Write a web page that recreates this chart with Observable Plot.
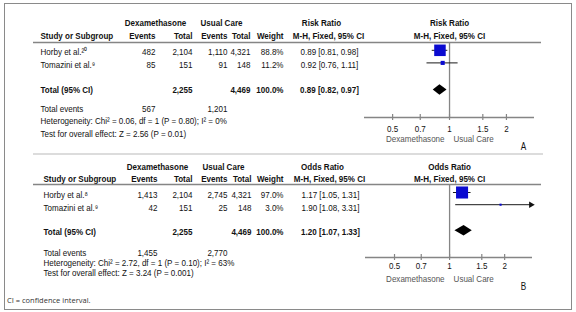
<!DOCTYPE html>
<html><head><meta charset="utf-8">
<script src="https://cdn.jsdelivr.net/npm/d3@7"></script>
<script src="https://cdn.jsdelivr.net/npm/@observablehq/plot@0.6"></script>
<style>
body{margin:0;background:#fff;}
#fig{position:relative;width:576px;height:312px;overflow:hidden;}
#border{position:absolute;left:4px;top:3px;width:568px;height:307px;border:1px solid #8a8a8a;box-sizing:border-box;}
#sep{position:absolute;left:33px;top:153px;width:510px;height:2px;background:#dcdcdc;}
.panel{position:absolute;left:0;}
#caption{position:absolute;left:7px;top:295px;font-family:"Open Sans",sans-serif;font-size:7.5px;line-height:10px;color:#333;}
</style></head>
<body>
<div id="fig">
  <div id="border"></div>
  <div id="sep"></div>
  <div id="pA" class="panel" style="top:0"></div>
  <div id="pB" class="panel" style="top:152px"></div>
  <div id="caption">CI = confidence interval.</div>
</div>
<script>
// ---------- data ----------
const groupHeaders = ["Dexamethasone", "Usual Care"];
const columnHeaders = ["Study or Subgroup", "Events", "Total", "Events", "Total", "Weight"];
const methodLabel = "M-H, Fixed, 95% CI";
const directionLabels = ["Dexamethasone", "Usual Care"];
const tickValues = [0.5, 0.7, 1, 1.5, 2];

// Panel A: risk ratio
const measureA = "Risk Ratio";
const studiesA = ["Horby et al.²⁰", "Tomazini et al.⁹"];
const dexEventsA = [482, 85];
const dexTotalA = [2104, 151];
const ucEventsA = [1110, 91];
const ucTotalA = [4321, 148];
const weightA = [88.8, 11.2];
const estA = [0.89, 0.92];
const lowA = [0.81, 0.76];
const highA = [0.98, 1.11];
const pooledA = [0.89, 0.82, 0.97];      // estimate, low, high
const totalsA = [2255, 4469, 100.0];     // dex total, usual total, weight
const totalEventsA = [567, 1201];
const heterogeneityA = "Heterogeneity: Chi² = 0.06, df = 1 (P = 0.80); I² = 0%";
const overallA = "Test for overall effect: Z = 2.56 (P = 0.01)";

// Panel B: odds ratio
const measureB = "Odds Ratio";
const studiesB = ["Horby et al.⁸", "Tomazini et al.⁹"];
const dexEventsB = [1413, 42];
const dexTotalB = [2104, 151];
const ucEventsB = [2745, 25];
const ucTotalB = [4321, 148];
const weightB = [97.0, 3.0];
const estB = [1.17, 1.90];
const lowB = [1.05, 1.08];
const highB = [1.31, 3.31];
const pooledB = [1.20, 1.07, 1.33];
const totalsB = [2255, 4469, 100.0];
const totalEventsB = [1455, 2770];
const heterogeneityB = "Heterogeneity: Chi² = 2.72, df = 1 (P = 0.10); I² = 63%";
const overallB = "Test for overall effect: Z = 3.24 (P = 0.001)";

// ---------- layout ----------
const FONT = '"Liberation Sans",Arial,sans-serif';
const CONDENSE = 0.82;
const ink = "#121212", grey = "#858585", blue = "#0a0ad0";

const layoutA = {
  height: 152, xDomain: [0.355, 2.815], xRange: [364, 534], letter: "A",
  col: {study: 40, dexE: 155, dexT: 192, ucE: 227, ucT: 250, wt: 283, dexC: 155, ucC: 221, measC: 321, ciC: 329},
  h1: 22, h2: 35, ul: 42, ulL: 33, ulR: 541,
  textY: [51.5, 64.5], markY: [49.8, 62.4], totalY: 89, diamondY: 89.5,
  eventsY: 108, hetY: 120, testY: 133, axisY: 117, tickY: 128, dirY: 138, letterX: 523, letterY: 146
};
const layoutB = {
  height: 145, xDomain: [0.347, 2.84], xRange: [365, 532], letter: "B",
  col: {study: 43, dexE: 157, dexT: 192, ucE: 227, ucT: 251, wt: 283, dexC: 157, ucC: 223, measC: 322, ciC: 330},
  h1: 14, h2: 26, ul: 32, ulL: 33, ulR: 541,
  textY: [42, 55], markY: [40, 52.2], totalY: 79, diamondY: 78.3,
  eventsY: 100, hetY: 110, testY: 120, axisY: 105, tickY: 113.5, dirY: 126, letterX: 523, letterY: 134
};

const fmtN = d3.format(",");
const fmtCI = (e, l, h) => `${e.toFixed(2)} [${l.toFixed(2)}, ${h.toFixed(2)}]`;

function drawPanel(D, L) {
  const W = 576;
  const studies = D.studies.map((name, i) => ({
    name, dexE: D.dexEvents[i], dexT: D.dexTotal[i], ucE: D.ucEvents[i], ucT: D.ucTotal[i],
    w: D.weight[i], est: D.est[i], lo: D.low[i], hi: D.high[i], ty: L.textY[i], my: L.markY[i]
  }));
  const C = L.col;
  const cell = (txt, x, y, anchor, o = {}) =>
    Plot.text([txt], {text: d => d, frameAnchor: "left", dx: x, y: () => y, textAnchor: anchor, fill: ink, ...o});
  const bold = {fontWeight: "bold"};
  const marks = [];

  // header rows
  marks.push(cell(groupHeaders[0], C.dexC, L.h1, "middle", bold));
  marks.push(cell(groupHeaders[1], C.ucC, L.h1, "middle", bold));
  marks.push(cell(D.measure, C.measC, L.h1, "middle", bold));
  marks.push(Plot.text([D.measure], {text: d => d, x: () => 1, y: () => L.h1, fill: ink, fontWeight: "bold"}));
  const hcols = [["study", "start"], ["dexE", "end"], ["dexT", "end"], ["ucE", "end"], ["ucT", "end"], ["wt", "end"]];
  hcols.forEach(([k, a], i) => marks.push(cell(columnHeaders[i], C[k], L.h2, a, bold)));
  marks.push(cell(methodLabel, C.ciC - 1, L.h2, "middle", bold));
  marks.push(Plot.text([methodLabel], {text: d => d, x: () => 1, y: () => L.h2, fill: ink, fontWeight: "bold"}));

  // header underline
  marks.push(Plot.ruleY([L.ul], {y: d => d, insetLeft: L.ulL, insetRight: W - L.ulR, stroke: grey, strokeWidth: 1.5}));

  // study rows text
  for (const s of studies) {
    marks.push(cell(s.name, C.study, s.ty, "start"));
    marks.push(cell(fmtN(s.dexE), C.dexE, s.ty, "end"));
    marks.push(cell(fmtN(s.dexT), C.dexT, s.ty, "end"));
    marks.push(cell(fmtN(s.ucE), C.ucE, s.ty, "end"));
    marks.push(cell(fmtN(s.ucT), C.ucT, s.ty, "end"));
    marks.push(cell(s.w.toFixed(1) + "%", C.wt, s.ty, "end"));
    marks.push(cell(fmtCI(s.est, s.lo, s.hi), C.ciC, s.ty, "middle"));
  }
  // total row
  marks.push(cell("Total (95% CI)", C.study, L.totalY, "start", bold));
  marks.push(cell(fmtN(D.totals[0]), C.dexT, L.totalY, "end", bold));
  marks.push(cell(fmtN(D.totals[1]), C.ucT, L.totalY, "end", bold));
  marks.push(cell(D.totals[2].toFixed(1) + "%", C.wt, L.totalY, "end", bold));
  marks.push(cell(fmtCI(...D.pooled), C.ciC, L.totalY, "middle", bold));
  // total events and footnotes
  marks.push(cell("Total events", C.study, L.eventsY, "start"));
  marks.push(cell(fmtN(D.totalEvents[0]), C.dexE, L.eventsY, "end"));
  marks.push(cell(fmtN(D.totalEvents[1]), C.ucE, L.eventsY, "end"));
  marks.push(cell(D.het, C.study, L.hetY, "start"));
  marks.push(cell(D.overall, C.study, L.testY, "start"));

  // forest plot
  marks.push(Plot.ruleX([1], {x: d => d, y1: () => L.ul, y2: () => L.axisY, stroke: grey, strokeWidth: 1.3}));
  marks.push(Plot.ruleY([L.axisY], {y: d => d, x1: () => L.xDomain[0], x2: () => L.xDomain[1], stroke: grey, strokeWidth: 1.3}));
  marks.push(Plot.ruleX(tickValues, {x: d => d, y1: () => L.axisY - 3, y2: () => L.axisY + 3, stroke: grey, strokeWidth: 1.2}));
  marks.push(Plot.text(tickValues, {x: d => d, y: () => L.tickY, text: d => String(d), fill: ink}));
  marks.push(Plot.text([directionLabels[0]], {text: d => d, x: () => 1, y: () => L.dirY, textAnchor: "end", dx: -5, fill: "#555"}));
  marks.push(Plot.text([directionLabels[1]], {text: d => d, x: () => 1, y: () => L.dirY, textAnchor: "start", dx: 4, fill: "#555"}));

  marks.push(Plot.ruleY(studies, {y: "my", x1: "lo", x2: d => Math.min(d.hi, L.xDomain[1]), stroke: "#1a1a1a", strokeWidth: 1}));
  marks.push(Plot.dot(studies.filter(d => d.hi > L.xDomain[1]), {x: () => L.xDomain[1], y: "my", symbol: "triangle", rotate: 90, r: 2.4, fill: "#111", dx: -1.5}));
  marks.push(Plot.dot(studies, {x: "est", y: "my", r: "w", symbol: "square", fill: blue}));
  const [pe, pl, ph] = D.pooled;
  const diamond = [
    {x: pl, y1: L.diamondY, y2: L.diamondY},
    {x: pe, y1: L.diamondY - 5.3, y2: L.diamondY + 5.3},
    {x: ph, y1: L.diamondY, y2: L.diamondY}
  ];
  marks.push(Plot.areaY(diamond, {x: "x", y1: "y1", y2: "y2", fill: "#000"}));

  marks.push(cell(L.letter, L.letterX, L.letterY, "middle", {fontSize: 10}));

  const svg = Plot.plot({
    width: W, height: L.height,
    marginLeft: 0, marginRight: 0, marginTop: 0, marginBottom: 0,
    x: {type: "log", domain: L.xDomain, range: L.xRange, axis: null},
    y: {domain: [0, L.height], range: [0, L.height], axis: null},
    r: {type: "sqrt", domain: [0, 100], range: [0, 6.9]},
    style: {fontFamily: FONT, fontSize: "9.8px", background: "transparent", overflow: "visible"},
    marks
  });
  // narrow typeface look: condense each label horizontally around its own anchor point
  svg.querySelectorAll("text").forEach(t => {
    const tr = t.getAttribute("transform") || "";
    t.setAttribute("transform", `${tr} scale(${CONDENSE},1)`);
  });
  return svg;
}

const dataA = {measure: measureA, studies: studiesA, dexEvents: dexEventsA, dexTotal: dexTotalA, ucEvents: ucEventsA, ucTotal: ucTotalA,
  weight: weightA, est: estA, low: lowA, high: highA, pooled: pooledA, totals: totalsA, totalEvents: totalEventsA, het: heterogeneityA, overall: overallA};
const dataB = {measure: measureB, studies: studiesB, dexEvents: dexEventsB, dexTotal: dexTotalB, ucEvents: ucEventsB, ucTotal: ucTotalB,
  weight: weightB, est: estB, low: lowB, high: highB, pooled: pooledB, totals: totalsB, totalEvents: totalEventsB, het: heterogeneityB, overall: overallB};

document.getElementById("pA").append(drawPanel(dataA, layoutA));
document.getElementById("pB").append(drawPanel(dataB, layoutB));
</script>
</body></html>
